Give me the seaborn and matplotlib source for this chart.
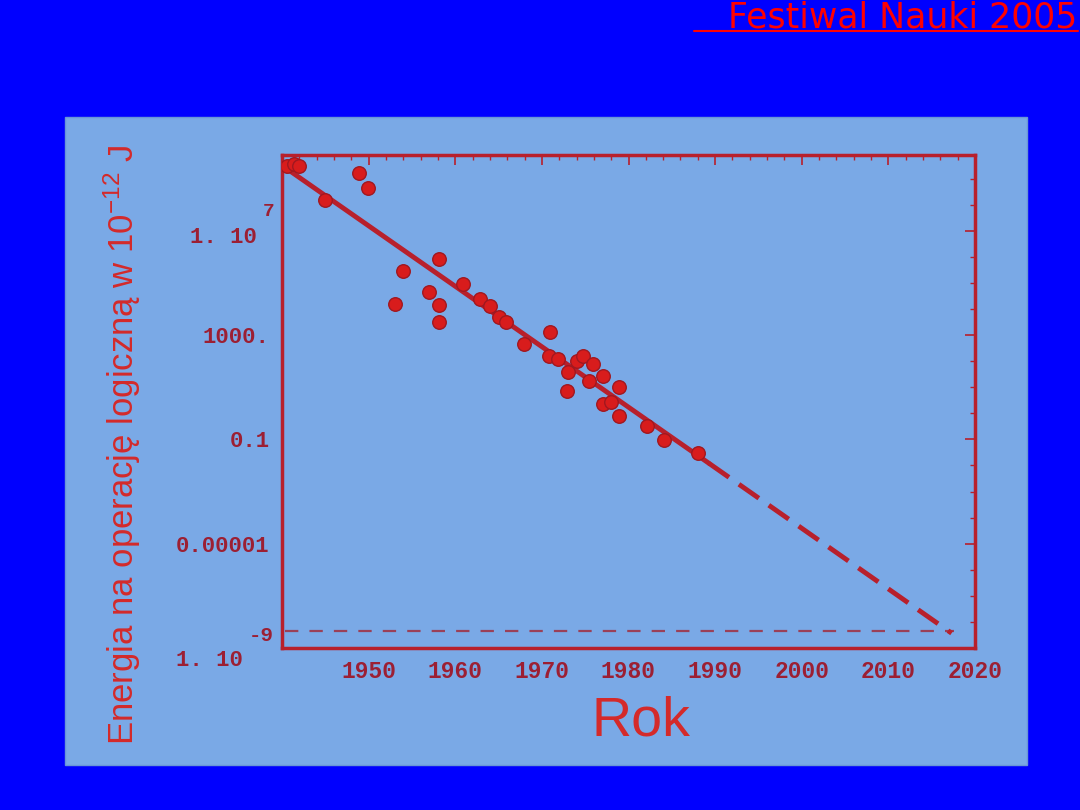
import numpy as np
import pandas as pd
import matplotlib
matplotlib.use('Agg')
import matplotlib.pyplot as plt
import seaborn as sns
from matplotlib.patches import Rectangle
from matplotlib.lines import Line2D
from matplotlib.ticker import FixedLocator, MultipleLocator, NullFormatter

# measured points: year and log10 of energy (in units of 1e-12 J)
years = [1940.6, 1941.4, 1942.0, 1948.9, 1949.9, 1945.0, 1958.1, 1954.0, 1960.9,
         1957.0, 1953.0, 1958.1, 1958.1, 1962.9, 1964.0, 1965.0, 1965.9, 1970.9,
         1967.9, 1970.8, 1971.9, 1973.0, 1972.9, 1974.0, 1974.8, 1975.9, 1975.4,
         1977.0, 1978.9, 1977.0, 1978.0, 1978.9, 1982.1, 1984.1, 1988.0]
log_energy = [9.48, 9.55, 9.48, 9.21, 8.64, 8.18, 5.90, 5.44, 4.94,
              4.64, 4.18, 4.14, 3.50, 4.37, 4.10, 3.69, 3.50, 3.11,
              2.66, 2.20, 2.09, 1.59, 0.87, 2.01, 2.20, 1.90, 1.25,
              1.44, 1.02, 0.37, 0.45, -0.09, -0.50, -1.04, -1.53]

# trend line: solid part and extrapolated (dashed) part
trend_years = [1940.0, 1989.3]
trend_vals = [3.2e9, 1.2e-2]
extra_years = [1989.3, 2017.3]
extra_vals = [1.2e-2, 3.7e-9]

# thermodynamic limit (dashed horizontal)
limit_val = 4.5e-9

x_ticks = [1950, 1960, 1970, 1980, 1990, 2000, 2010, 2020]
y_ticks = [1e-9, 1e-5, 1e-1, 1e3, 1e7]
y_tick_labels = ['', '0.00001', '0.1', '1000.', '']

sns.set_style('white')
plt.rcParams['mathtext.fontset'] = 'custom'
plt.rcParams['mathtext.rm'] = 'Liberation Sans'
plt.rcParams['mathtext.it'] = 'Liberation Sans'

panel_color = '#7AA9E6'
frame_red = '#B8202C'
dot_red = '#D81C1C'
tick_red = '#9C1F33'
label_red = '#D42A2A'

fig = plt.figure(figsize=(10.8, 8.1), dpi=100)
fig.patch.set_facecolor('#0000FF')

fig.add_artist(Rectangle((65 / 1080, 1 - 765 / 810), (1027 - 65) / 1080, (765 - 117) / 810,
                         transform=fig.transFigure, facecolor=panel_color,
                         edgecolor='#6A96D6', lw=1, zorder=0))

fig.text(1077 / 1080, 1 - 27 / 810, 'Festiwal Nauki 2005', ha='right', va='baseline',
         color='#FF0000', fontsize=25, family='DejaVu Sans')
fig.add_artist(Line2D([694 / 1080, 1078 / 1080], [1 - 31 / 810] * 2,
                      transform=fig.transFigure, color='#FF0000', lw=1.5))

ax = fig.add_axes([282 / 1080, 1 - 648 / 810, (975 - 282) / 1080, (648 - 155) / 810])
ax.set_facecolor(panel_color)

df = pd.DataFrame({'year': years, 'energy': 10 ** np.array(log_energy)})

ax.axhline(limit_val, xmin=0.005, xmax=0.97, color='#9A4058', lw=1.6,
           dashes=(6, 5), zorder=2)
sns.lineplot(x=trend_years, y=trend_vals, ax=ax, color=frame_red, lw=3.5, zorder=3)
sns.lineplot(x=extra_years, y=extra_vals, ax=ax, color=frame_red, lw=3.5,
             zorder=3).lines[-1].set_dashes((5, 2.5))
sns.scatterplot(data=df, x='year', y='energy', ax=ax, color=dot_red, s=95,
                edgecolor='#A01820', linewidth=1, zorder=4)

ax.set_yscale('log')
ax.set_xlim(1940, 2020)
ax.set_ylim(1e-9, 8e9)

ax.set_xticks(x_ticks, labels=[str(t) for t in x_ticks], fontfamily='Liberation Mono',
              fontweight='bold', fontsize=16.5, color=tick_red)
ax.set_yticks(y_ticks, labels=y_tick_labels, fontfamily='Liberation Mono',
              fontweight='bold', fontsize=16, color=tick_red)
ax.xaxis.set_minor_locator(MultipleLocator(2))
ax.yaxis.set_minor_locator(FixedLocator([10.0 ** k for k in range(-9, 10)]))
ax.yaxis.set_minor_formatter(NullFormatter())
ax.tick_params(which='major', direction='in', length=7, width=1.2, color=frame_red,
               top=True, right=True, pad=9)
ax.tick_params(which='minor', direction='in', length=3.5, width=1, color=frame_red,
               top=True, right=True)
ax.set_xlabel('')
ax.set_ylabel('')

for sp in ax.spines.values():
    sp.set_color(frame_red)
    sp.set_linewidth(2.5)

# scientific tick labels at 1e7 and 1e-9
mono = dict(fontfamily='Liberation Mono', fontweight='bold', color=tick_red)
ax.annotate('1. 10', xy=(0, 1e7), xycoords=('axes fraction', 'data'),
            xytext=(-18, -5), textcoords='offset points', ha='right', va='center',
            fontsize=16, **mono)
ax.annotate('7', xy=(0, 1e7), xycoords=('axes fraction', 'data'),
            xytext=(-14, 14), textcoords='offset points', ha='left', va='center',
            fontsize=14, **mono)
ax.annotate('1. 10', xy=(0, 1e-9), xycoords=('axes fraction', 'data'),
            xytext=(-28, -9), textcoords='offset points', ha='right', va='center',
            fontsize=16, **mono)
ax.annotate('-9', xy=(0, 1e-9), xycoords=('axes fraction', 'data'),
            xytext=(-6, 9), textcoords='offset points', ha='right', va='center',
            fontsize=15, **mono)

fig.text(641 / 1080, 1 - 721 / 810, 'Rok', ha='center', va='center',
         color=label_red, fontsize=40, family='Liberation Sans')
fig.text(122 / 1080, 1 - 445 / 810, r'Energia na operację logiczną w 10$^{-12}$ J',
         rotation=90, ha='center', va='center', color=label_red, fontsize=25,
         family=['Liberation Sans Narrow', 'Liberation Sans'])

fig.savefig('out.png', dpi=100)
